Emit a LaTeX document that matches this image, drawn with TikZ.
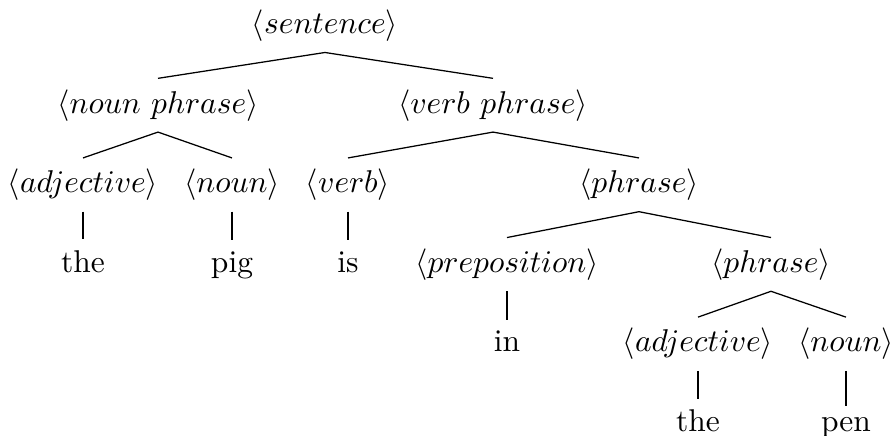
\documentclass[tikz,border=0pt]{standalone}
\usepackage{amsmath}
\usepackage{tikz}

\tikzset{
    sym/.style={anchor=base},
    word/.style={anchor=base},
}

\begin{document}
\begin{tikzpicture}[x=0.3175pt,y=-0.3175pt]
    \useasboundingbox (0,0) rectangle (891,436);
    % row 1 and 2
    \node[sym] (sent) at (325,33.5) {$\langle sentence\rangle$};
    \node[sym] (np) at (158,113.1) {$\langle noun\ phrase\rangle$};
    \node[sym] (vp) at (493,113.1) {$\langle verb\ phrase\rangle$};
    % row 3
    \node[sym] (adjA) at (83,192.7) {$\langle adjective\rangle$};
    \node[sym] (nounA) at (232,192.7) {$\langle noun\rangle$};
    \node[sym] (verb) at (348,192.7) {$\langle verb\rangle$};
    \node[sym] (phrA) at (639,192.7) {$\langle phrase\rangle$};
    % row 4
    \node[word] (theA) at (83,272.3) {the};
    \node[word] (pig) at (232,272.3) {pig};
    \node[word] (is) at (348,272.3) {is};
    \node[sym] (prep) at (507,272.3) {$\langle preposition\rangle$};
    \node[sym] (phrB) at (771,272.3) {$\langle phrase\rangle$};
    % row 5 and 6
    \node[word] (in) at (507,351.9) {in};
    \node[sym] (adjB) at (698,351.9) {$\langle adjective\rangle$};
    \node[sym] (nounB) at (846,351.9) {$\langle noun\rangle$};
    \node[word] (theB) at (698,431.5) {the};
    \node[word] (pen) at (846,431.5) {pen};
    % branches
    \foreach \up/\down in {sent/np,sent/vp,np/adjA,np/nounA,vp/verb,vp/phrA,
        adjA/theA,nounA/pig,verb/is,phrA/prep,phrA/phrB,prep/in,
        phrB/adjB,phrB/nounB,adjB/theB,nounB/pen}{
        \draw (\up.south) -- (\down.north);
    }
\end{tikzpicture}
\end{document}
